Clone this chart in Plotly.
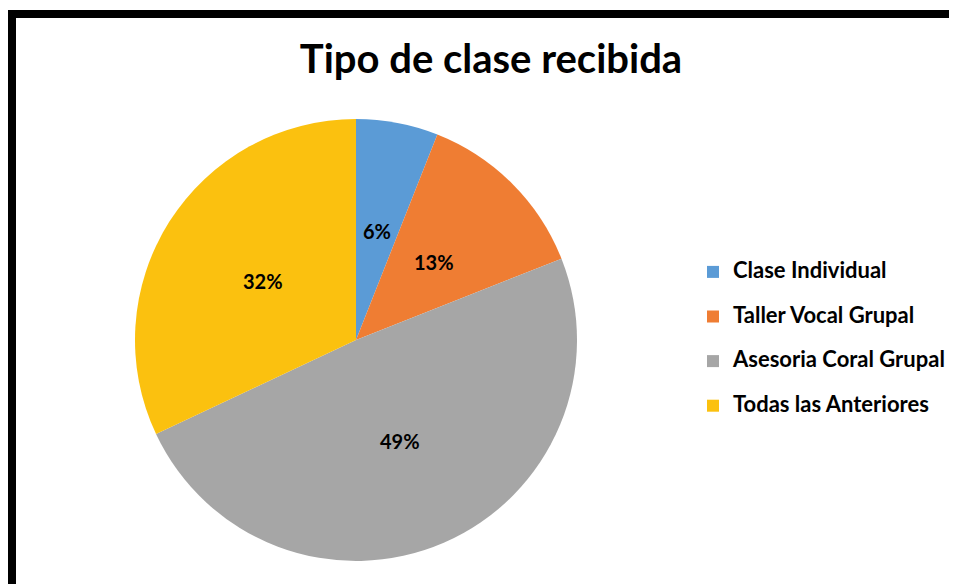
import math
import plotly.graph_objects as go

categories = ["Clase Individual", "Taller Vocal Grupal", "Asesoria Coral Grupal", "Todas las Anteriores"]
values = [6, 13, 49, 32]
colors = ["#5b9bd6", "#ef7d33", "#a6a6a6", "#fbc10f"]
title_text = "Tipo de clase recibida"

W, H = 957, 584
OFF = 8  # page body margin
FONT = "Lato"

# pie geometry (pixels in the figure)
PIE_L, PIE_R, PIE_T, PIE_B = 135 - OFF, 577 - OFF, 119 - OFF, 561 - OFF
dom_x = [PIE_L / W, PIE_R / W]
dom_y = [1 - PIE_B / H, 1 - PIE_T / H]

legend_labels = ["<span style='font-size:22px'>%s</span><br> " % c for c in categories]

fig = go.Figure()
fig.add_trace(go.Pie(
    labels=legend_labels,
    values=values,
    sort=False,
    direction="clockwise",
    rotation=0,
    marker=dict(colors=colors, line=dict(width=0)),
    textinfo="none",
    domain=dict(x=dom_x, y=dom_y),
    hovertemplate="%{value}<extra></extra>",
))

# percentage labels placed along each slice's bisector, at half the radius
total = sum(values)
cx = (PIE_L + PIE_R) / 2
cy = (PIE_T + PIE_B) / 2
R = (PIE_R - PIE_L) / 2
annotations = []
cum = 0
for v in values:
    mid = (cum + v / 2) / total * 2 * math.pi
    cum += v
    px = cx + 0.5 * R * math.sin(mid)
    py = cy - 0.5 * R * math.cos(mid)
    annotations.append(dict(
        x=px / W, y=1 - py / H, xref="paper", yref="paper",
        text="%d%%" % round(100 * v / total), showarrow=False,
        xanchor="center", yanchor="middle",
        font=dict(family=FONT, size=20, color="black", weight="bold"),
    ))

fig.update_layout(
    width=W, height=H,
    margin=dict(l=0, r=0, t=0, b=0),
    paper_bgcolor="white",
    plot_bgcolor="white",
    title=dict(text=title_text, x=(491 - OFF) / W, xanchor="center", y=1 - 51 / H, yanchor="middle",
               font=dict(family=FONT, size=40, color="black", weight="bold")),
    legend=dict(x=(693 - OFF) / W, xanchor="left", y=1 - 247 / H, yanchor="top",
                font=dict(family=FONT, size=16, color="black", weight="bold"),
                valign="top", bgcolor="rgba(0,0,0,0)"),
    annotations=annotations,
    shapes=[dict(type="rect", xref="paper", yref="paper",
                 x0=(12 - OFF) / W, x1=1.05, y0=-0.05, y1=1 - (14 - OFF) / H,
                 line=dict(color="black", width=8), fillcolor="rgba(0,0,0,0)", layer="above")],
)

fig.write_html("out.html")
